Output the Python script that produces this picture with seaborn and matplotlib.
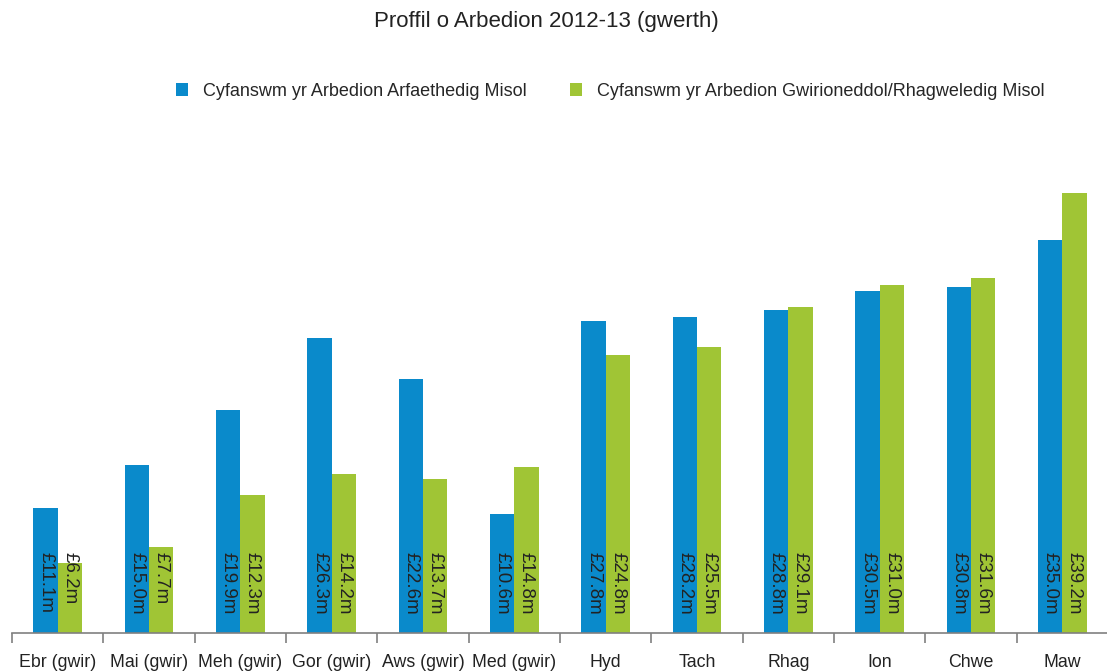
import matplotlib
matplotlib.use("Agg")
import matplotlib.pyplot as plt
import seaborn as sns
import pandas as pd
import numpy as np
from matplotlib.ticker import FixedLocator, NullFormatter
from matplotlib.patches import Patch

categories = ["Ebr (gwir)", "Mai (gwir)", "Meh (gwir)", "Gor (gwir)", "Aws (gwir)", "Med (gwir)",
              "Hyd", "Tach", "Rhag", "Ion", "Chwe", "Maw"]
series_names = ["Cyfanswm yr Arbedion Arfaethedig Misol",
                "Cyfanswm yr Arbedion Gwirioneddol/Rhagweledig Misol"]
planned = [11.1, 15.0, 19.9, 26.3, 22.6, 10.6, 27.8, 28.2, 28.8, 30.5, 30.8, 35.0]
actual = [6.2, 7.7, 12.3, 14.2, 13.7, 14.8, 24.8, 25.5, 29.1, 31.0, 31.6, 39.2]
colors = ["#0A8ACB", "#A0C535"]
title = "Proffil o Arbedion 2012-13 (gwerth)"

sns.set_theme(style="white")
plt.rcParams['font.family'] = ['Liberation Sans', 'DejaVu Sans']

df = pd.DataFrame({
    "cat": categories * 2,
    "val": planned + actual,
    "series": [series_names[0]] * len(categories) + [series_names[1]] * len(categories),
})

fig = plt.figure(figsize=(11.07, 6.71), dpi=100)
ax = fig.add_axes([12 / 1107, 38 / 671, 1096 / 1107, 493 / 671])
sns.barplot(data=df, x="cat", y="val", hue="series", palette=colors, width=0.53,
            saturation=1, ax=ax, legend=False, linewidth=0, edgecolor="none")

ax.set_ylim(0, 43.94)
ax.set_xlim(-0.5, len(categories) - 0.5)
ax.set_xlabel("")
ax.set_ylabel("")
ax.set_yticks([])
for s in ["top", "right", "left"]:
    ax.spines[s].set_visible(False)
ax.spines["bottom"].set_color("#808080")
ax.spines["bottom"].set_linewidth(1.2)
ax.tick_params(axis="x", which="major", length=0, labelsize=12.8, pad=15, colors="#222222")
ax.xaxis.set_minor_locator(FixedLocator(np.arange(-0.5, len(categories), 1.0)))
ax.xaxis.set_minor_formatter(NullFormatter())
ax.tick_params(axis="x", which="minor", length=7, width=1.2, color="#808080", bottom=True)

for p, v in zip(ax.patches, planned + actual):
    ax.text(p.get_x() + p.get_width() / 2, 7.2, f"£{v:.1f}m", rotation=270,
            ha="center", va="top", fontsize=13.5, color="#222222")

fig.text(0.494, 1 - 22 / 671, title, ha="center", va="center", fontsize=16, color="#222222")

handles = [Patch(facecolor=c, edgecolor="none") for c in colors]
fig.legend(handles, series_names, loc="center", bbox_to_anchor=(0.551, 1 - 91 / 671), ncol=2,
           frameon=False, fontsize=13.0, handlelength=0.7, handleheight=0.7,
           columnspacing=2.4, handletextpad=0.8)

fig.savefig("out.png", dpi=100)
